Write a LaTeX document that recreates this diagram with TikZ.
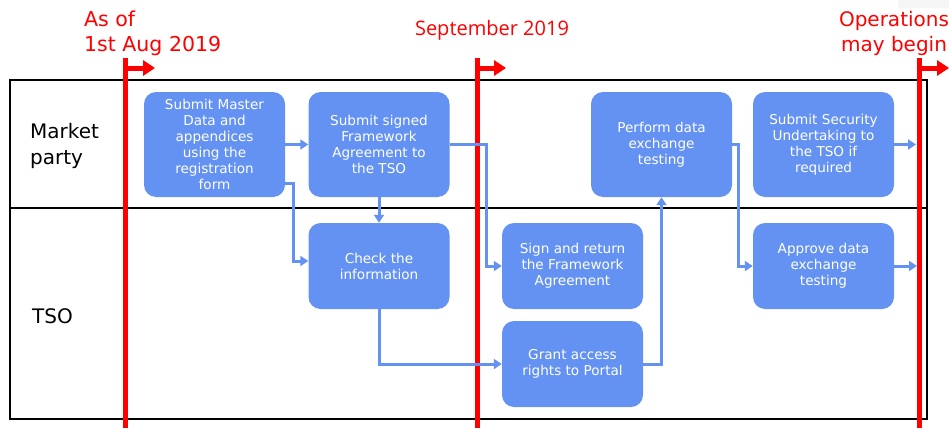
\documentclass[tikz,border=0pt]{standalone}
\usepackage{fontspec}
\setmainfont{DejaVu Sans}
\newfontfamily\segoe{Open Sans}
\usetikzlibrary{arrows.meta}
\definecolor{boxblue}{HTML}{6492F2}
\definecolor{flagred}{HTML}{FF0000}
\tikzset{
  taskbox/.style={draw=none, fill=boxblue, rounded corners=12pt, minimum width=141pt, minimum height=105pt, inner sep=2pt, align=center, text=white, font=\fontsize{13.6}{16}\selectfont},
  shortbox/.style={taskbox, minimum height=86pt},
  flow/.style={draw=boxblue, line width=3pt, -{Triangle[length=8pt,width=10pt]}},
  flag/.style={draw=flagred, line width=5pt},
  flagtip/.style={draw=flagred, line width=5pt, -{Triangle[length=12pt,width=15pt]}},
  lanelabel/.style={anchor=west, align=left, font=\fontsize{20}{26}\selectfont, inner sep=0pt},
  datelabel/.style={text=flagred, font=\fontsize{20.5}{25}\selectfont, inner sep=0pt}
}
\begin{document}
\begin{tikzpicture}[x=1pt,y=-1pt]
\useasboundingbox (0,0) rectangle (949,428);
\fill[gray!8] (898,0) rectangle (949,8);
% frame
\draw[black, line width=1.6pt] (10,80) rectangle (927,419);
\draw[black, line width=1.6pt] (10,208) -- (927,208);
% lane labels
\node[lanelabel] (lmp) at (30,146) {Market\\party};
\node[lanelabel] (ltso) at (32,316) {TSO};
% date markers
\coordinate (r1t) at (125,58); \coordinate (r1b) at (125,428);
\coordinate (r2t) at (477,58); \coordinate (r2b) at (477,428);
\coordinate (r3t) at (919,58); \coordinate (r3b) at (919,428);
\draw[flag] (r1t) -- (r1b);
\draw[flag] (r2t) -- (r2b);
\draw[flag] (r3t) -- (r3b);
\coordinate (f1) at (155,68); \coordinate (f2) at (506,68); \coordinate (f3) at (949,68);
\draw[flagtip] (125,68) -- (f1);
\draw[flagtip] (477,68) -- (f2);
\draw[flagtip] (919,68) -- (f3);
\node[datelabel, anchor=west, align=left] (d1) at (84,33) {As of\\1st Aug 2019};
\node[datelabel, font=\segoe\fontsize{20}{25}\selectfont] (d2) at (492,30) {September 2019};
\node[datelabel, align=center, font=\fontsize{20}{25}\selectfont] (d3) at (894,33) {Operations\\may begin};
% tasks
\node[taskbox] (b1) at (214.5,144.5) {Submit Master\\Data and\\appendices\\using the\\registration\\form};
\node[taskbox] (b2) at (379,144.5) {Submit signed\\Framework\\Agreement to\\the TSO};
\node[taskbox] (b3) at (661.5,144.5) {Perform data\\exchange\\testing};
\node[taskbox] (b4) at (823.5,144.5) {Submit Security\\Undertaking to\\the TSO if\\required};
\node[shortbox] (b5) at (379,266) {Check the\\information};
\node[shortbox] (b6) at (572.5,266) {Sign and return\\the Framework\\Agreement};
\node[shortbox] (b7) at (572.5,364) {Grant access\\rights to Portal};
\node[shortbox] (b8) at (823.5,266) {Approve data\\exchange\\testing};
% connectors
\coordinate (o1) at (916,144.5);
\coordinate (o2) at (917,266);
\draw[flow] (b1.east) -- (b2.west);
\draw[flow] ([yshift=-38.5pt]b1.east) -- (293,183) -- (293,261) -- ([yshift=5pt]b5.west);
\draw[flow] (b2.south) -- (b5.north);
\draw[flow] (b2.east) -- (486,144.5) |- (b6.west);
\draw[flow] (b5.south) |- (b7.west);
\draw[flow] (b7.east) -| (b3.south);
\draw[flow] (b3.east) -- (738,144.5) |- (b8.west);
\draw[flow] (b4.east) -- (o1);
\draw[flow] (b8.east) -- (o2);
\end{tikzpicture}
\end{document}
